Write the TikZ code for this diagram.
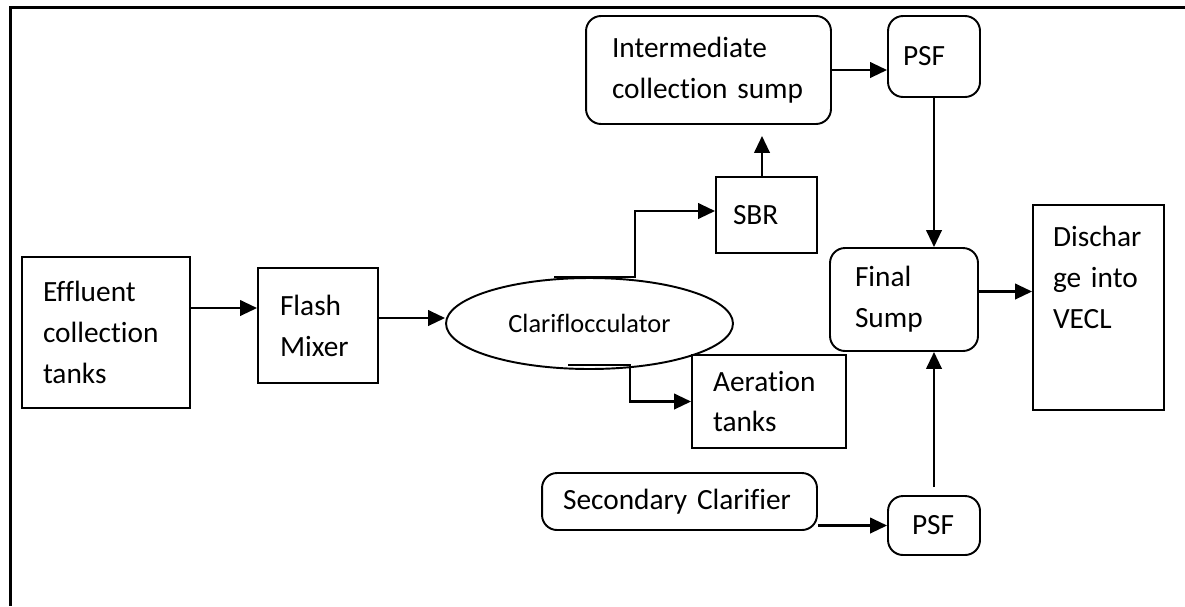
\documentclass[tikz,border=0pt]{standalone}
\usepackage{fontspec}
\setmainfont{Carlito}[Ligatures=NoCommon]
\usetikzlibrary{arrows.meta,shapes.geometric}

\newcommand{\boxfont}{\fontsize{16.7}{23.3}\selectfont}

\begin{document}
\begin{tikzpicture}[x=0.02cm,y=-0.02cm,>={Triangle[length=0.34cm,width=0.31cm]},
  box/.style={draw,line width=1.1pt,inner sep=0pt,align=left,font=\boxfont},
  rbox/.style={box,rounded corners=0.3cm},
  flow/.style={->,line width=1.4pt}]
\useasboundingbox (0,0) rectangle (1185,606);
% page frame, runs off the right and bottom edges
\draw[line width=1.5pt] (1185,7.5) -- (10.5,7.5) -- (10.5,606);
% primary treatment
\node[box,minimum width=3.36cm,minimum height=3.02cm,text width=2.52cm] (eff) at (106,332.5) {Effluent\\collection\\tanks};
\node[box,minimum width=2.4cm,minimum height=2.3cm,text width=1.52cm] (fla) at (318,325.5) {Flash\\Mixer};
\node[draw,ellipse,line width=1.1pt,inner sep=0pt,minimum width=5.74cm,minimum height=1.82cm,
  font=\fontsize{15}{18}\selectfont] (cla) at (589.5,323.5) {Clariflocculator};
% biological branches
\node[box,minimum width=2.02cm,minimum height=1.52cm,text width=1.34cm] (sbr) at (766.5,215) {SBR};
\node[box,minimum width=3.08cm,minimum height=1.86cm,text width=2.24cm] (aer) at (769,401.5) {Aeration\\tanks};
\node[rbox,minimum width=4.9cm,minimum height=2.16cm,text width=3.86cm] (ics) at (708.5,70) {Intermediate\\collection sump};
\node[rbox,minimum width=5.5cm,minimum height=1.14cm,text width=4.66cm] (sec) at (679.5,501.5) {Secondary Clarifier};
% filters, sump and outfall
\node[rbox,minimum width=1.84cm,minimum height=1.62cm,text width=1.24cm] (psf1) at (934,56.5) {PSF};
\node[rbox,minimum width=1.84cm,minimum height=1.18cm,text width=0.88cm] (psf2) at (934,525.5) {PSF};
\node[rbox,minimum width=2.96cm,minimum height=2.06cm,text width=1.96cm] (fin) at (904,299.5) {Final\\Sump};
\node[box,minimum width=2.62cm,minimum height=4.1cm] (dis) at (1098.5,307.5) {};
\node[align=left,inner sep=0pt,font=\boxfont,text width=1.82cm] (distxt) at (1098.5,277) {Dischar\\ge into\\VECL};
% arrows
\draw[flow] ([yshift=0.49cm]eff.east) coordinate (e1) -- (e1 -| fla.west);
\draw[flow] ([yshift=0.15cm]fla.east) coordinate (f1) -- (f1 -| cla.west);
\draw[flow] ([xshift=-0.71cm]cla.north) -- ([xshift=0.91cm]cla.north) |- ([yshift=0.08cm]sbr.west);
\draw[flow] ([xshift=-0.43cm,yshift=0.1cm]cla.south) -- ([xshift=0.81cm,yshift=0.1cm]cla.south) |- (aer.west);
\draw[flow,shorten >=0.22cm] ([xshift=-0.09cm]sbr.north) coordinate (s1) -- (s1 |- ics.south);
\draw[flow] (ics.east) -- (ics.east -| psf1.west);
\draw[flow] (psf1.south) -- (psf1.south |- fin.north);
\draw[flow] (sec.east |- psf2.west) -- (psf2.west);
\draw[flow,shorten <=0.16cm] (psf2.north) -- (psf2.north |- fin.south);
\draw[flow] ([yshift=0.16cm]fin.east) coordinate (f2) -- (f2 -| dis.west);
\end{tikzpicture}
\end{document}
